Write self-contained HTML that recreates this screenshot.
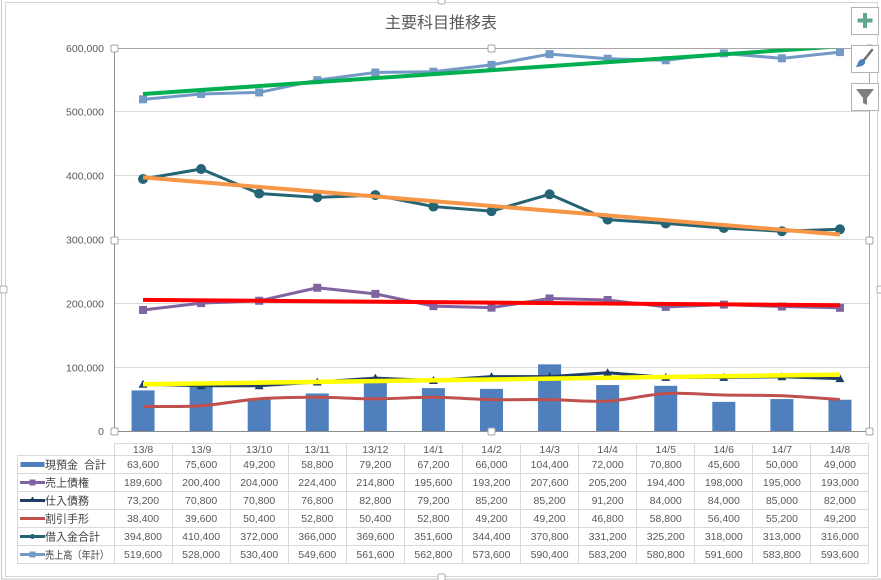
<!DOCTYPE html>
<html><head><meta charset="utf-8">
<style>
html,body{margin:0;padding:0;background:#fff;}
svg{display:block;}
.ax{font-family:"Liberation Sans","Noto Sans CJK JP",sans-serif;font-size:10.5px;fill:#595959;}
.tb{font-family:"Liberation Sans","Noto Sans CJK JP",sans-serif;font-size:10.5px;fill:#595959;text-anchor:middle;}
.lg{font-family:"Liberation Sans","Noto Sans CJK JP",sans-serif;font-size:11px;fill:#404040;}
</style></head>
<body>
<svg width="881" height="580" viewBox="0 0 881 580" xmlns="http://www.w3.org/2000/svg">
<defs><clipPath id="pc"><rect x="114" y="48" width="755" height="383"/></clipPath></defs>
<rect width="881" height="580" fill="#fff"/>
<!-- outer frames -->
<rect x="1.5" y="-1" width="880" height="580" fill="none" stroke="#c8c8c8" stroke-width="1"/>
<rect x="5.5" y="2.5" width="872" height="574" fill="none" stroke="#d4d4d4" stroke-width="1"/>
<rect x="0" y="286" width="7" height="7" rx="1.5" fill="#fff" stroke="#b0b0b0"/>
<rect x="438" y="-3" width="7" height="7" rx="1.5" fill="#fff" stroke="#b0b0b0"/>
<rect x="438" y="574" width="7" height="7" rx="1.5" fill="#fff" stroke="#b0b0b0"/>
<rect x="877" y="286" width="7" height="7" rx="1.5" fill="#fff" stroke="#b0b0b0"/>

<!-- title -->
<text x="441" y="28" text-anchor="middle" style="font-family:'Liberation Sans','Noto Sans CJK JP',sans-serif;font-size:16px;fill:#595959;">主要科目推移表</text>

<!-- gridlines -->
<g stroke="#d9d9d9" stroke-width="1">
<line x1="114" y1="111.5" x2="869" y2="111.5"/>
<line x1="114" y1="175.5" x2="869" y2="175.5"/>
<line x1="114" y1="239.5" x2="869" y2="239.5"/>
<line x1="114" y1="303.5" x2="869" y2="303.5"/>
<line x1="114" y1="367.5" x2="869" y2="367.5"/>
</g>
<g stroke="#a6a6a6" stroke-width="1">
<line x1="114" y1="48.5" x2="869" y2="48.5"/>
<line x1="869.5" y1="48" x2="869.5" y2="431"/>
</g>
<line x1="114.5" y1="48" x2="114.5" y2="431" stroke="#8c8c8c"/>

<!-- y labels -->
<g class="ax" text-anchor="end">
<text x="104" y="52">600,000</text>
<text x="104" y="115.5">500,000</text>
<text x="104" y="179.5">400,000</text>
<text x="104" y="243.5">300,000</text>
<text x="104" y="307.5">200,000</text>
<text x="104" y="371.5">100,000</text>
<text x="104" y="435">0</text>
</g>

<!-- bars -->
<g fill="#4f7fbd">
<rect x="131.54" y="390.40" width="23" height="40.60"/>
<rect x="189.62" y="382.74" width="23" height="48.26"/>
<rect x="247.69" y="399.59" width="23" height="31.41"/>
<rect x="305.77" y="393.47" width="23" height="37.53"/>
<rect x="363.85" y="380.44" width="23" height="50.56"/>
<rect x="421.92" y="388.10" width="23" height="42.90"/>
<rect x="480.00" y="388.87" width="23" height="42.13"/>
<rect x="538.08" y="364.36" width="23" height="66.64"/>
<rect x="596.15" y="385.04" width="23" height="45.96"/>
<rect x="654.23" y="385.81" width="23" height="45.19"/>
<rect x="712.31" y="401.89" width="23" height="29.11"/>
<rect x="770.38" y="399.08" width="23" height="31.92"/>
<rect x="828.46" y="399.72" width="23" height="31.28"/>
</g>
<line x1="114" y1="431.5" x2="869" y2="431.5" stroke="#8c8c8c"/>

<g clip-path="url(#pc)">
<!-- 売上債権 -->
<polyline fill="none" stroke="#8064a2" stroke-width="3" stroke-linejoin="round" points="143.04,309.97 201.12,303.08 259.19,300.78 317.27,287.76 375.35,293.89 433.42,306.14 491.50,307.67 549.58,298.48 607.65,300.01 665.73,306.91 723.81,304.61 781.88,306.52 839.96,307.80"/>
<g fill="#8064a2">
<rect x="139.04" y="305.97" width="8" height="8"/><rect x="197.12" y="299.08" width="8" height="8"/><rect x="255.19" y="296.78" width="8" height="8"/><rect x="313.27" y="283.76" width="8" height="8"/><rect x="371.35" y="289.89" width="8" height="8"/><rect x="429.42" y="302.14" width="8" height="8"/><rect x="487.50" y="303.67" width="8" height="8"/><rect x="545.58" y="294.48" width="8" height="8"/><rect x="603.65" y="296.01" width="8" height="8"/><rect x="661.73" y="302.91" width="8" height="8"/><rect x="719.81" y="300.61" width="8" height="8"/><rect x="777.88" y="302.52" width="8" height="8"/><rect x="835.96" y="303.80" width="8" height="8"/>
</g>
<!-- 仕入債務 -->
<polyline fill="none" stroke="#1f3d66" stroke-width="3" stroke-linejoin="round" points="143.04,384.27 201.12,385.81 259.19,385.81 317.27,381.98 375.35,378.15 433.42,380.44 491.50,376.61 549.58,376.61 607.65,372.78 665.73,377.38 723.81,377.38 781.88,376.74 839.96,378.66"/>
<g fill="#1f3d66">
<polygon points="143.04,379.77 147.54,387.77 138.54,387.77"/>
<polygon points="201.12,381.31 205.62,389.31 196.62,389.31"/>
<polygon points="259.19,381.31 263.69,389.31 254.69,389.31"/>
<polygon points="317.27,377.48 321.77,385.48 312.77,385.48"/>
<polygon points="375.35,373.65 379.85,381.65 370.85,381.65"/>
<polygon points="433.42,375.94 437.92,383.94 428.92,383.94"/>
<polygon points="491.50,372.11 496.00,380.11 487.00,380.11"/>
<polygon points="549.58,372.11 554.08,380.11 545.08,380.11"/>
<polygon points="607.65,368.28 612.15,376.28 603.15,376.28"/>
<polygon points="665.73,372.88 670.23,380.88 661.23,380.88"/>
<polygon points="723.81,372.88 728.31,380.88 719.31,380.88"/>
<polygon points="781.88,372.24 786.38,380.24 777.38,380.24"/>
<polygon points="839.96,374.16 844.46,382.16 835.46,382.16"/>
</g>
<!-- 割引手形 -->
<path fill="none" stroke="#c0504d" stroke-width="3" stroke-linejoin="round" d="M143.04,406.49 C152.72,406.36 181.76,407.00 201.12,405.72 C220.48,404.44 239.83,400.23 259.19,398.83 C278.55,397.43 297.91,397.30 317.27,397.30 C336.63,397.30 355.99,398.83 375.35,398.83 C394.71,398.83 414.06,397.17 433.42,397.30 C452.78,397.43 472.14,399.21 491.50,399.59 C510.86,399.97 530.22,399.33 549.58,399.59 C568.94,399.85 588.29,402.15 607.65,401.13 C627.01,400.11 646.37,394.49 665.73,393.47 C685.09,392.45 704.45,394.62 723.81,395.00 C743.17,395.38 762.52,395.00 781.88,395.76 C801.24,396.53 830.28,398.95 839.96,399.59"/>
<!-- 借入金合計 -->
<polyline fill="none" stroke="#246474" stroke-width="3" stroke-linejoin="round" points="143.04,178.99 201.12,169.03 259.19,193.54 317.27,197.37 375.35,195.07 433.42,206.56 491.50,211.16 549.58,194.31 607.65,219.59 665.73,223.41 723.81,228.01 781.88,231.20 839.96,229.29"/>
<g fill="#246474">
<circle cx="143.04" cy="178.99" r="5"/><circle cx="201.12" cy="169.03" r="5"/><circle cx="259.19" cy="193.54" r="5"/><circle cx="317.27" cy="197.37" r="5"/><circle cx="375.35" cy="195.07" r="5"/><circle cx="433.42" cy="206.56" r="5"/><circle cx="491.50" cy="211.16" r="5"/><circle cx="549.58" cy="194.31" r="5"/><circle cx="607.65" cy="219.59" r="5"/><circle cx="665.73" cy="223.41" r="5"/><circle cx="723.81" cy="228.01" r="5"/><circle cx="781.88" cy="231.20" r="5"/><circle cx="839.96" cy="229.29" r="5"/>
</g>
<!-- 売上高 -->
<polyline fill="none" stroke="#7399c6" stroke-width="3" stroke-linejoin="round" points="143.04,99.32 201.12,93.96 259.19,92.43 317.27,80.17 375.35,72.51 433.42,71.74 491.50,64.85 549.58,54.13 607.65,58.72 665.73,60.26 723.81,53.36 781.88,58.34 839.96,52.09"/>
<g fill="#7399c6">
<rect x="139.04" y="95.32" width="8" height="8"/><rect x="197.12" y="89.96" width="8" height="8"/><rect x="255.19" y="88.43" width="8" height="8"/><rect x="313.27" y="76.17" width="8" height="8"/><rect x="371.35" y="68.51" width="8" height="8"/><rect x="429.42" y="67.74" width="8" height="8"/><rect x="487.50" y="60.85" width="8" height="8"/><rect x="545.58" y="50.13" width="8" height="8"/><rect x="603.65" y="54.72" width="8" height="8"/><rect x="661.73" y="56.26" width="8" height="8"/><rect x="719.81" y="49.36" width="8" height="8"/><rect x="777.88" y="54.34" width="8" height="8"/><rect x="835.96" y="48.09" width="8" height="8"/>
</g>
<!-- trendlines -->
<line x1="143.04" y1="384.29" x2="839.96" y2="374.58" stroke="#ffff00" stroke-width="4.5"/>
<line x1="143.04" y1="299.90" x2="839.96" y2="305.27" stroke="#ff0000" stroke-width="4"/>
<line x1="143.04" y1="177.43" x2="839.96" y2="234.50" stroke="#f79646" stroke-width="4"/>
<line x1="143.04" y1="93.97" x2="839.96" y2="46.31" stroke="#00b050" stroke-width="4"/>
</g>
<line x1="114" y1="48.5" x2="869" y2="48.5" stroke="#a6a6a6" stroke-width="1" opacity="0.6"/>

<!-- plot handles -->
<g fill="#fff" stroke="#a6a6a6" stroke-width="1">
<rect x="111" y="45" width="7" height="7" rx="1.5"/>
<rect x="488" y="45" width="7" height="7" rx="1.5"/>
<rect x="866" y="45" width="7" height="7" rx="1.5"/>
<rect x="111" y="237" width="7" height="7" rx="1.5"/>
<rect x="866" y="237" width="7" height="7" rx="1.5"/>
<rect x="111" y="428" width="7" height="7" rx="1.5"/>
<rect x="488" y="428" width="7" height="7" rx="1.5"/>
<rect x="866" y="428" width="7" height="7" rx="1.5"/>
</g>

<!-- side buttons -->
<g fill="#fff" stroke="#b4b4b4" stroke-width="1">
<rect x="851.5" y="7.5" width="27" height="27"/>
<rect x="851.5" y="45.5" width="27" height="27"/>
<rect x="851.5" y="83.5" width="27" height="27"/>
</g>
<g fill="#5fa68a">
<rect x="863" y="13" width="4" height="15"/>
<rect x="857.5" y="18.5" width="15" height="4"/>
</g>
<g>
<line x1="872" y1="50" x2="864" y2="60" stroke="#707070" stroke-width="2.5" stroke-linecap="round"/>
<path d="M863,59 C858,59 858,64 856,67 C861,67 866,65 865,61 Z" fill="#4f7fbd"/>
</g>
<path d="M856,89 L874,89 L867,98 L867,105 L863,103 L863,98 Z" fill="#7f7f7f"/>

<!-- data table grid -->
<g stroke="#d9d9d9" stroke-width="1">
<line x1="114" y1="443.5" x2="869" y2="443.5"/>
<line x1="17" y1="455.5" x2="869" y2="455.5"/>
<line x1="17" y1="473.5" x2="869" y2="473.5"/>
<line x1="17" y1="491.5" x2="869" y2="491.5"/>
<line x1="17" y1="509.5" x2="869" y2="509.5"/>
<line x1="17" y1="527.5" x2="869" y2="527.5"/>
<line x1="17" y1="545.5" x2="869" y2="545.5"/>
<line x1="17" y1="563.5" x2="869" y2="563.5"/>
<line x1="17.5" y1="455" x2="17.5" y2="564"/>
<line x1="114.5" y1="443" x2="114.5" y2="564"/>
<line x1="172.5" y1="443" x2="172.5" y2="564"/>
<line x1="230.5" y1="443" x2="230.5" y2="564"/>
<line x1="288.5" y1="443" x2="288.5" y2="564"/>
<line x1="346.5" y1="443" x2="346.5" y2="564"/>
<line x1="404.5" y1="443" x2="404.5" y2="564"/>
<line x1="462.5" y1="443" x2="462.5" y2="564"/>
<line x1="520.5" y1="443" x2="520.5" y2="564"/>
<line x1="578.5" y1="443" x2="578.5" y2="564"/>
<line x1="636.5" y1="443" x2="636.5" y2="564"/>
<line x1="694.5" y1="443" x2="694.5" y2="564"/>
<line x1="752.5" y1="443" x2="752.5" y2="564"/>
<line x1="810.5" y1="443" x2="810.5" y2="564"/>
<line x1="868.5" y1="443" x2="868.5" y2="564"/>
</g>

<!-- header -->
<g class="tb">
<text x="143.04" y="453">13/8</text><text x="201.12" y="453">13/9</text><text x="259.19" y="453">13/10</text><text x="317.27" y="453">13/11</text><text x="375.35" y="453">13/12</text><text x="433.42" y="453">14/1</text><text x="491.50" y="453">14/2</text><text x="549.58" y="453">14/3</text><text x="607.65" y="453">14/4</text><text x="665.73" y="453">14/5</text><text x="723.81" y="453">14/6</text><text x="781.88" y="453">14/7</text><text x="839.96" y="453">14/8</text>
</g>
<!-- rows -->
<g class="tb">
<text x="143.04" y="468">63,600</text><text x="201.12" y="468">75,600</text><text x="259.19" y="468">49,200</text><text x="317.27" y="468">58,800</text><text x="375.35" y="468">79,200</text><text x="433.42" y="468">67,200</text><text x="491.50" y="468">66,000</text><text x="549.58" y="468">104,400</text><text x="607.65" y="468">72,000</text><text x="665.73" y="468">70,800</text><text x="723.81" y="468">45,600</text><text x="781.88" y="468">50,000</text><text x="839.96" y="468">49,000</text>
<text x="143.04" y="486">189,600</text><text x="201.12" y="486">200,400</text><text x="259.19" y="486">204,000</text><text x="317.27" y="486">224,400</text><text x="375.35" y="486">214,800</text><text x="433.42" y="486">195,600</text><text x="491.50" y="486">193,200</text><text x="549.58" y="486">207,600</text><text x="607.65" y="486">205,200</text><text x="665.73" y="486">194,400</text><text x="723.81" y="486">198,000</text><text x="781.88" y="486">195,000</text><text x="839.96" y="486">193,000</text>
<text x="143.04" y="504">73,200</text><text x="201.12" y="504">70,800</text><text x="259.19" y="504">70,800</text><text x="317.27" y="504">76,800</text><text x="375.35" y="504">82,800</text><text x="433.42" y="504">79,200</text><text x="491.50" y="504">85,200</text><text x="549.58" y="504">85,200</text><text x="607.65" y="504">91,200</text><text x="665.73" y="504">84,000</text><text x="723.81" y="504">84,000</text><text x="781.88" y="504">85,000</text><text x="839.96" y="504">82,000</text>
<text x="143.04" y="522">38,400</text><text x="201.12" y="522">39,600</text><text x="259.19" y="522">50,400</text><text x="317.27" y="522">52,800</text><text x="375.35" y="522">50,400</text><text x="433.42" y="522">52,800</text><text x="491.50" y="522">49,200</text><text x="549.58" y="522">49,200</text><text x="607.65" y="522">46,800</text><text x="665.73" y="522">58,800</text><text x="723.81" y="522">56,400</text><text x="781.88" y="522">55,200</text><text x="839.96" y="522">49,200</text>
<text x="143.04" y="540">394,800</text><text x="201.12" y="540">410,400</text><text x="259.19" y="540">372,000</text><text x="317.27" y="540">366,000</text><text x="375.35" y="540">369,600</text><text x="433.42" y="540">351,600</text><text x="491.50" y="540">344,400</text><text x="549.58" y="540">370,800</text><text x="607.65" y="540">331,200</text><text x="665.73" y="540">325,200</text><text x="723.81" y="540">318,000</text><text x="781.88" y="540">313,000</text><text x="839.96" y="540">316,000</text>
<text x="143.04" y="558">519,600</text><text x="201.12" y="558">528,000</text><text x="259.19" y="558">530,400</text><text x="317.27" y="558">549,600</text><text x="375.35" y="558">561,600</text><text x="433.42" y="558">562,800</text><text x="491.50" y="558">573,600</text><text x="549.58" y="558">590,400</text><text x="607.65" y="558">583,200</text><text x="665.73" y="558">580,800</text><text x="723.81" y="558">591,600</text><text x="781.88" y="558">583,800</text><text x="839.96" y="558">593,600</text>
</g>

<!-- legend keys -->
<rect x="20.5" y="462" width="24" height="5" fill="#4f7fbd"/>
<line x1="20" y1="482.5" x2="45" y2="482.5" stroke="#8064a2" stroke-width="3"/>
<rect x="29.5" y="479.5" width="6" height="6" fill="#8064a2"/>
<line x1="20" y1="500.5" x2="45" y2="500.5" stroke="#1f3d66" stroke-width="3"/>
<polygon points="32.5,496.5 36,502 29,502" fill="#1f3d66"/>
<line x1="20" y1="518.5" x2="45" y2="518.5" stroke="#c0504d" stroke-width="3"/>
<line x1="20" y1="536.5" x2="45" y2="536.5" stroke="#246474" stroke-width="3"/>
<circle cx="32.5" cy="536.5" r="2.5" fill="#246474"/>
<line x1="20" y1="554.5" x2="45" y2="554.5" stroke="#7399c6" stroke-width="3"/>
<rect x="29.5" y="551.5" width="6" height="6" fill="#7399c6"/>
<g class="lg">
<text x="45" y="468.5">現預金</text><text x="84" y="468.5">合計</text>
<text x="45" y="486.5">売上債権</text>
<text x="45" y="504.5">仕入債務</text>
<text x="45" y="522.5">割引手形</text>
<text x="45" y="540.5">借入金合計</text>
<text x="45" y="558.5" textLength="64" lengthAdjust="spacingAndGlyphs" style="font-size:10.5px">売上高（年計）</text>
</g>
</svg>
</body></html>
